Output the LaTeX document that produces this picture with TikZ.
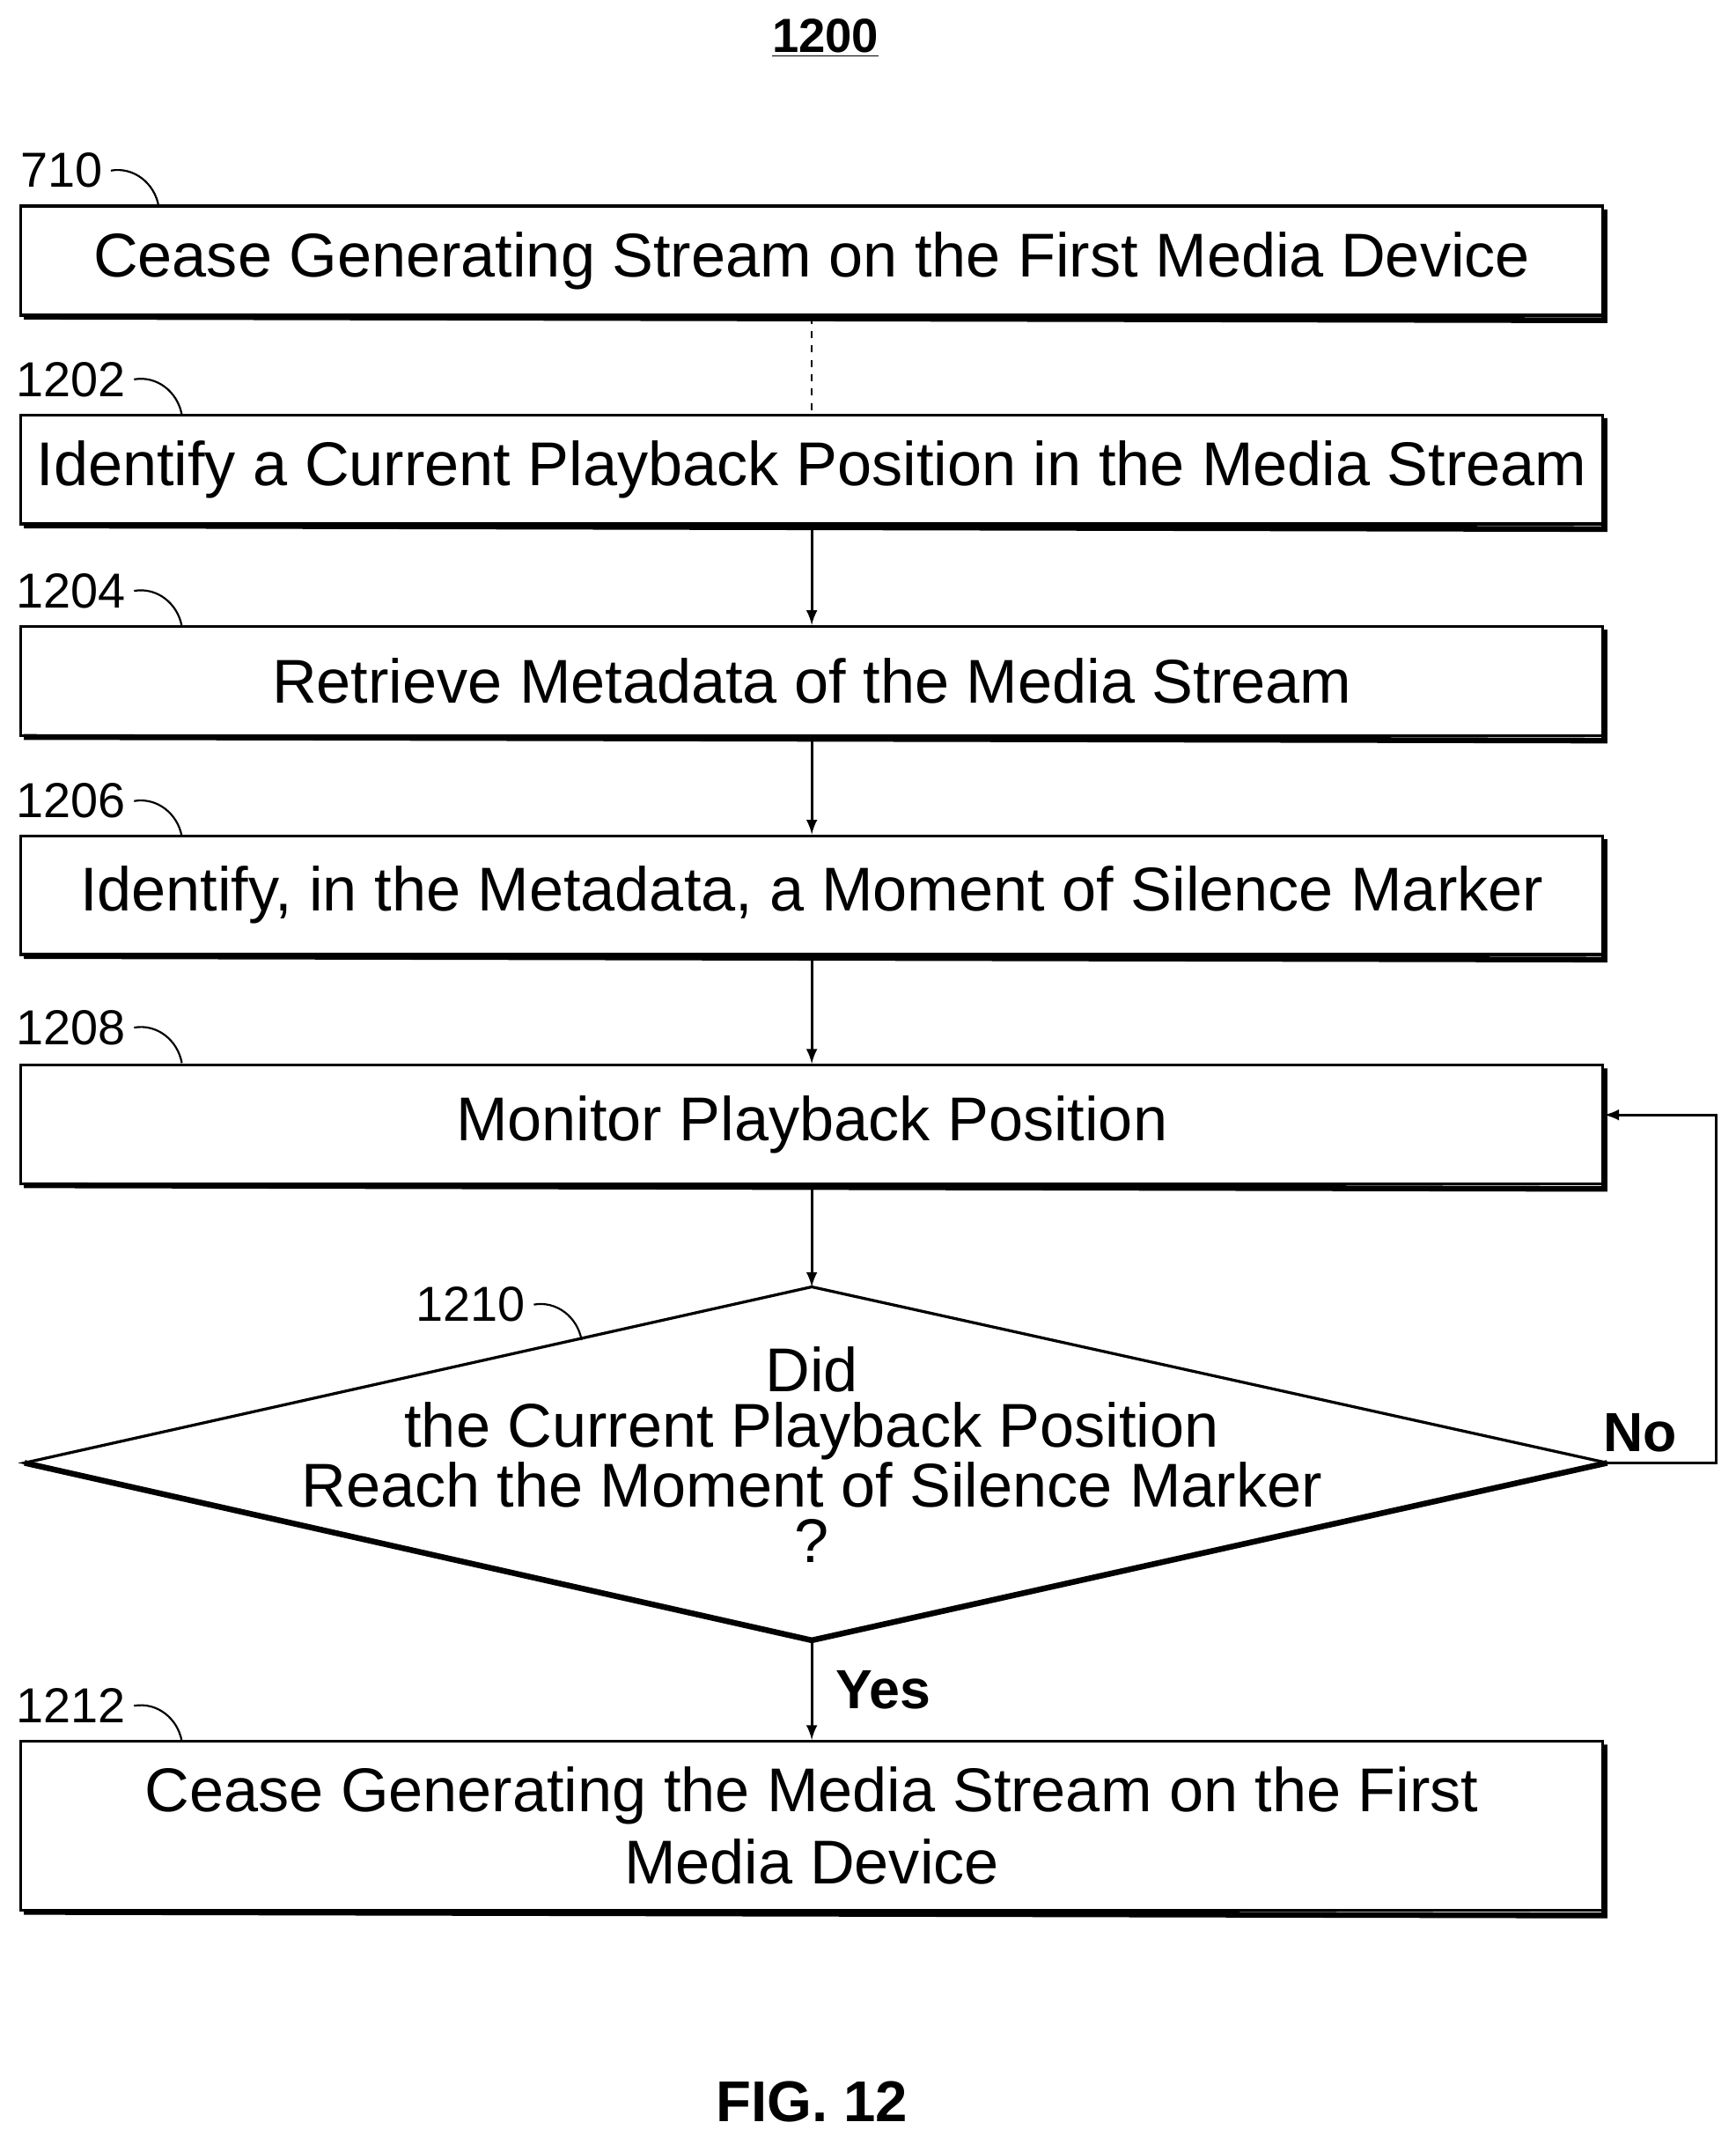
\documentclass[tikz,border=0pt]{standalone}
\usepackage{fontspec}
\setmainfont{Liberation Sans}
\usetikzlibrary{arrows.meta}
\tikzset{>=latex}
\tikzset{
  procbox/.style={draw, line width=1.2pt, minimum width=23.2cm, align=center,
    font=\fontsize{25.8}{30}\selectfont, inner sep=0pt},
  shade/.style={line width=2.4pt},
  refnum/.style={font=\fontsize{20.5}{24}\selectfont},
  flow/.style={->, line width=1.1pt},
}
\begin{document}
\begin{tikzpicture}[x=0.02cm, y=-0.02cm]
  \useasboundingbox (0,0) rectangle (1272,1566);

  \node[font=\bfseries\fontsize{20}{24}\selectfont] (title) at (605,28) {\underline{1200}};

  % process steps
  \node[procbox, minimum height=1.6cm] (s0) at (595,191) {Cease Generating Stream on the First Media Device};
  \node[procbox, minimum height=1.6cm] (s1) at (595,344) {Identify a Current Playback Position in the Media Stream};
  \node[procbox, minimum height=1.6cm] (s2) at (595,499) {Retrieve Metadata of the Media Stream};
  \node[procbox, minimum height=1.74cm] (s3) at (595,656) {Identify, in the Metadata, a Moment of Silence Marker};
  \node[procbox, minimum height=1.74cm] (s4) at (595,824) {Monitor Playback Position};
  \node[procbox, minimum height=2.48cm] (s6) at (595,1338) {Cease Generating the Media Stream on the First\\Media Device};
  \foreach \n in {s0,s1,s2,s3,s4,s6}
    \draw[shade] ([xshift=2pt]\n.south west) -- ([yshift=-1.5pt]\n.south east) -- ([yshift=-2pt]\n.north east);

  % decision
  \coordinate (dt) at (595,943);
  \coordinate (dl) at (18,1072);
  \coordinate (dr) at (1178,1072);
  \coordinate (db) at (595,1202);
  \draw[line width=1.2pt] (dt) -- (dr) -- (db) -- (dl) -- cycle;
  \draw[shade] (dl) -- (db) -- (dr);
  \node[align=center, font=\fontsize{25.8}{23}\selectfont] (s5) at (595,1066)
    {Did\\the Current Playback Position\\Reach the Moment of Silence Marker\\?};

  % reference numerals
  \foreach \lab/\px/\py in {710/45/125, 1202/52/278, 1204/52/433, 1206/52/587, 1208/52/753, 1212/52/1250, 1210/345/956}{
    \node[refnum] (r\lab) at (\px,\py) {\lab};
    \draw[line width=0.8pt] (r\lab.east) to[out=10, in=100] ++(35,26);
  }

  % connectors
  \draw[dashed, line width=0.6pt] (s0) -- (s1);
  \draw[flow] (s1) -- (s2);
  \draw[flow] (s2) -- (s3);
  \draw[flow] (s3) -- (s4);
  \draw[flow] (s4) -- (dt);
  \draw[flow] (db) -- node[right, font=\bfseries\fontsize{23}{26}\selectfont, xshift=6pt] {Yes} (s6);
  \coordinate (nc) at (1258,1072);
  \coordinate (nt) at (1258,817);
  \draw[flow] (dr) -- (nc) -- (nt) -- (s4.east |- nt);
  \node[font=\bfseries\fontsize{23}{26}\selectfont] (no) at (1202,1050) {No};

  \node[font=\bfseries\fontsize{24}{28}\selectfont] (fig) at (595,1540) {FIG. 12};
\end{tikzpicture}
\end{document}
